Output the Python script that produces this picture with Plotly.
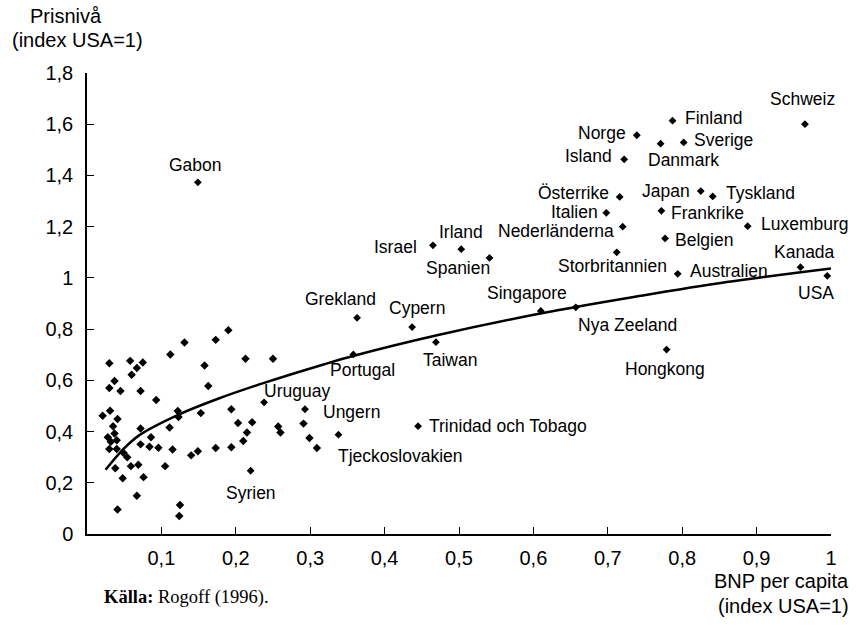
import plotly.graph_objects as go

# ---------------- data ----------------
countries = ["Schweiz", "Finland", "Norge", "Danmark", "Sverige", "Island",
             "Österrike", "Japan", "Tyskland", "Italien", "Frankrike",
             "Luxemburg", "Nederländerna", "Belgien", "Storbritannien",
             "Australien", "Kanada", "USA", "Nya Zeeland", "Hongkong",
             "Israel", "Irland", "Spanien", "Singapore", "Cypern", "Grekland",
             "Taiwan", "Portugal", "Trinidad och Tobago", "Gabon", "Uruguay",
             "Ungern", "Tjeckoslovakien", "Syrien"]
gdp = [0.965, 0.787, 0.739, 0.771, 0.802, 0.722,
       0.716, 0.825, 0.841, 0.698, 0.772,
       0.888, 0.720, 0.777, 0.712,
       0.794, 0.959, 0.995, 0.657, 0.779,
       0.465, 0.503, 0.541, 0.610, 0.437, 0.363,
       0.469, 0.358, 0.445, 0.149, 0.238,
       0.293, 0.338, 0.220]
price = [1.600, 1.614, 1.557, 1.524, 1.529, 1.463,
         1.316, 1.339, 1.318, 1.254, 1.262,
         1.202, 1.200, 1.154, 1.100,
         1.016, 1.042, 1.008, 0.885, 0.720,
         1.127, 1.112, 1.078, 0.871, 0.808, 0.844,
         0.749, 0.701, 0.421, 1.373, 0.514,
         0.487, 0.388, 0.247]

other_gdp = [0.190, 0.173, 0.131, 0.112, 0.030, 0.058, 0.075, 0.067, 0.060,
             0.158, 0.213, 0.250, 0.037, 0.030, 0.045, 0.072, 0.163, 0.093,
             0.021, 0.031, 0.041, 0.122, 0.123, 0.153, 0.194, 0.035, 0.072,
             0.111, 0.203, 0.222, 0.257, 0.291, 0.028, 0.037, 0.040, 0.032,
             0.086, 0.215, 0.260, 0.299, 0.030, 0.040, 0.072, 0.084, 0.096,
             0.115, 0.149, 0.140, 0.173, 0.194, 0.210, 0.309, 0.049, 0.054,
             0.059, 0.069, 0.105, 0.038, 0.048, 0.076, 0.067, 0.041, 0.125,
             0.124]
other_price = [0.796, 0.758, 0.748, 0.701, 0.667, 0.676, 0.670, 0.648, 0.622,
               0.658, 0.684, 0.684, 0.597, 0.570, 0.558, 0.558, 0.578, 0.523,
               0.462, 0.481, 0.449, 0.480, 0.457, 0.472, 0.487, 0.421, 0.412,
               0.416, 0.433, 0.436, 0.420, 0.431, 0.378, 0.392, 0.366, 0.360,
               0.378, 0.396, 0.396, 0.375, 0.332, 0.332, 0.350, 0.341, 0.337,
               0.330, 0.323, 0.307, 0.336, 0.339, 0.363, 0.336, 0.317, 0.300,
               0.265, 0.270, 0.265, 0.257, 0.218, 0.222, 0.149, 0.096, 0.113,
               0.070]

trend_gdp = [0.025, 0.047, 0.070, 0.124, 0.178, 0.238, 0.318, 0.360, 0.469,
             0.611, 0.744, 0.860, 1.000]
trend_price = [0.251, 0.326, 0.385, 0.467, 0.530, 0.590, 0.662, 0.697, 0.775,
               0.862, 0.930, 0.984, 1.037]

x_tickvals = [0.1, 0.2, 0.3, 0.4, 0.5, 0.6, 0.7, 0.8, 0.9, 1.0]
x_ticktext = ["0,1", "0,2", "0,3", "0,4", "0,5", "0,6", "0,7", "0,8", "0,9", "1"]
y_tickvals = [0, 0.2, 0.4, 0.6, 0.8, 1.0, 1.2, 1.4, 1.6, 1.8]
y_ticktext = ["0", "0,2", "0,4", "0,6", "0,8", "1", "1,2", "1,4", "1,6", "1,8"]

# ---------------- label placement (anchor, dx px, dy px; dy down) ----------------
label_place = {
    "Schweiz": ("center", -2, -25), "Finland": ("left", 11, -3),
    "Norge": ("right", -10, -2), "Danmark": ("center", 23, 16),
    "Sverige": ("left", 9, -2), "Island": ("right", -11, -3),
    "Österrike": ("right", -10, -4), "Japan": ("right", -10, 0),
    "Tyskland": ("left", 12, -3), "Italien": ("right", -7, -1),
    "Frankrike": ("left", 9, 2), "Luxemburg": ("left", 12, -2),
    "Nederländerna": ("right", -8, 4), "Belgien": ("left", 9, 2),
    "Storbritannien": ("center", -4, 14), "Australien": ("left", 11, -3),
    "Kanada": ("center", 4, -15), "USA": ("center", -11, 17),
    "Nya Zeeland": ("center", 52, 18), "Hongkong": ("center", -2, 19),
    "Israel": ("right", -15, 2), "Irland": ("center", 0, -17),
    "Spanien": ("center", -32, 10), "Singapore": ("center", -14, -18),
    "Cypern": ("center", 5, -19), "Grekland": ("center", -17, -19),
    "Taiwan": ("center", 14, 18), "Portugal": ("center", 9, 16),
    "Trinidad och Tobago": ("left", 10, 0), "Gabon": ("center", -2, -17),
    "Uruguay": ("center", 33, -11), "Ungern": ("left", 17, 3),
    "Tjeckoslovakien": ("left", -1, 21), "Syrien": ("center", 0, 22),
}

FONT = "Liberation Sans, Arial, Helvetica, sans-serif"

fig = go.Figure()
fig.add_trace(go.Scatter(x=trend_gdp, y=trend_price, mode="lines",
                         line=dict(color="black", width=2.5, shape="spline", smoothing=1.0),
                         hoverinfo="skip", showlegend=False))
fig.add_trace(go.Scatter(x=other_gdp, y=other_price, mode="markers",
                         marker=dict(symbol="diamond", size=6.5, color="black"),
                         showlegend=False))
fig.add_trace(go.Scatter(x=gdp, y=price, mode="markers", text=countries,
                         marker=dict(symbol="diamond", size=6, color="black"),
                         showlegend=False))

annotations = []
for name, xv, yv in zip(countries, gdp, price):
    anchor, dx, dy = label_place[name]
    annotations.append(dict(x=xv, y=yv, xref="x", yref="y", text=name,
                            showarrow=False, xanchor=anchor, yanchor="middle",
                            xshift=dx, yshift=-dy, borderpad=0,
                            font=dict(family=FONT, size=17.5, color="black")))

title_font = dict(family=FONT, size=20, color="black")
annotations += [
    dict(text="Prisnivå", x=66, y=16, showarrow=False, font=title_font,
         xanchor="center", yanchor="middle"),
    dict(text="(index USA=1)", x=77, y=40, showarrow=False, font=title_font,
         xanchor="center", yanchor="middle"),
    dict(text="BNP per capita", x=851, y=581, showarrow=False, font=title_font,
         xanchor="right", yanchor="middle"),
    dict(text="(index USA=1)", x=851, y=606, showarrow=False, font=title_font,
         xanchor="right", yanchor="middle"),
    dict(text="<b>Källa:</b> Rogoff (1996).", x=102, y=597, showarrow=False,
         font=dict(family="Liberation Serif, Times New Roman, serif", size=18.5, color="black"),
         xanchor="left", yanchor="middle"),
]

W, H = 857, 627
L, R, T, B = 87, 26, 73, 93
pw, ph = W - L - R, H - T - B
# convert pixel-positioned titles to paper coordinates
for a in annotations[len(countries):]:
    a["xref"] = "paper"
    a["yref"] = "paper"
    a["x"] = (a["x"] - L) / pw
    a["y"] = (H - B - a["y"]) / ph

fig.update_layout(
    width=W, height=H, margin=dict(l=L, r=R, t=T, b=B, pad=0),
    paper_bgcolor="white", plot_bgcolor="white",
    font=dict(family=FONT, color="black"),
    annotations=annotations, showlegend=False,
    xaxis=dict(range=[0, 1.0], tickvals=x_tickvals, ticktext=x_ticktext,
               showgrid=False, zeroline=False, showline=True, linecolor="black",
               linewidth=1.5, ticks="inside", ticklen=7, tickwidth=1.2,
               tickcolor="black", tickfont=dict(family=FONT, size=20),
               ticklabelstandoff=5, fixedrange=True),
    yaxis=dict(range=[0, 1.8], tickvals=y_tickvals, ticktext=y_ticktext,
               showgrid=False, zeroline=False, showline=True, linecolor="black",
               linewidth=1.5, ticks="inside", ticklen=7, tickwidth=1.2,
               tickcolor="black", tickfont=dict(family=FONT, size=20),
               ticklabelstandoff=8, fixedrange=True),
)

fig.write_html("out.html")
